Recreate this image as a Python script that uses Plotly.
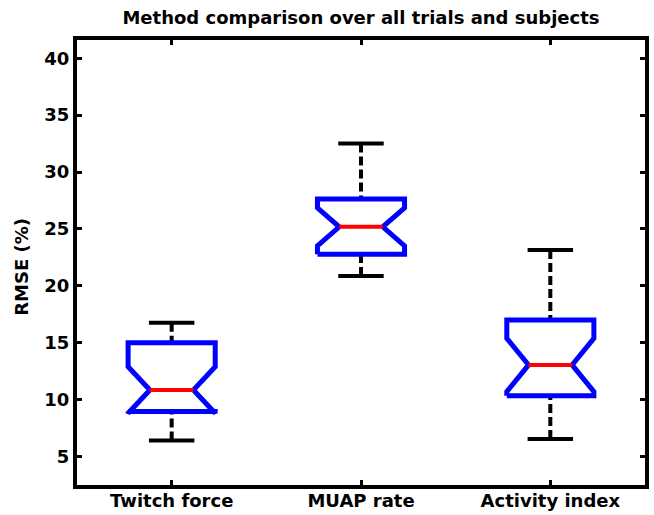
import plotly.graph_objects as go

# RMSE summary statistics (%) for each estimation method
methods = ["Twitch force", "MUAP rate", "Activity index"]
lower_whisker = [6.40, 20.86, 6.55]
q1 = [8.95, 22.77, 10.35]
median = [10.85, 25.19, 13.05]
q3 = [15.00, 27.62, 17.00]
upper_whisker = [16.76, 32.51, 23.14]
notch_half = [2.05, 1.67, 2.34]

y_ticks = [5, 10, 15, 20, 25, 30, 35, 40]

BOX_W = 0.46   # box width in category units
CAP_W = 0.24   # whisker cap width
FONT = dict(family="DejaVu Sans", size=18, color="black", weight="bold")

fig = go.Figure()

for i, name in enumerate(methods):
    c = i + 1
    left, right = c - BOX_W / 2, c + BOX_W / 2
    nl, nr = c - BOX_W / 4, c + BOX_W / 4
    n_lo = median[i] - notch_half[i]
    n_hi = median[i] + notch_half[i]

    # whiskers (dashed) from box edges to adjacent values
    for y0, y1 in ((q3[i], upper_whisker[i]), (q1[i], lower_whisker[i])):
        fig.add_trace(go.Scatter(
            x=[c, c], y=[y1, y0], mode="lines",
            line=dict(color="black", width=4, dash="9px,4px"),
            hoverinfo="skip", showlegend=False))
    # whisker caps
    for yv in (upper_whisker[i], lower_whisker[i]):
        fig.add_trace(go.Scatter(
            x=[c - CAP_W / 2, c + CAP_W / 2], y=[yv, yv], mode="lines",
            line=dict(color="black", width=4),
            hoverinfo="skip", showlegend=False))

    # notched box outline
    bx = [left, left, nl, left, left, right, right, nr, right, right, left]
    by = [q1[i], n_lo, median[i], n_hi, q3[i], q3[i], n_hi, median[i], n_lo, q1[i], q1[i]]
    fig.add_trace(go.Scatter(
        x=bx, y=by, mode="lines",
        line=dict(color="#0000FF", width=5),
        name=name, showlegend=False))

    # median line
    fig.add_trace(go.Scatter(
        x=[nl, nr], y=[median[i], median[i]], mode="lines",
        line=dict(color="#FF0000", width=4),
        hoverinfo="skip", showlegend=False))

axis_common = dict(
    showline=True, linecolor="black", linewidth=4, mirror="allticks",
    ticks="inside", ticklen=5, tickwidth=3, tickcolor="black",
    showgrid=False, zeroline=False, tickfont=FONT, automargin=False,
)

fig.update_layout(
    width=654, height=515,
    margin=dict(l=77, r=9, t=40, b=30),
    paper_bgcolor="white", plot_bgcolor="white",
    title=dict(text="Method comparison over all trials and subjects",
               x=0.5, xref="paper", y=1 - 18 / 515, yref="container",
               xanchor="center", yanchor="middle",
               font=dict(family="DejaVu Sans", size=18, color="black", weight="bold")),
    xaxis=dict(range=[0.5, 3.5], tickvals=[1, 2, 3], ticktext=methods,
               ticklabelstandoff=-4, **axis_common),
    yaxis=dict(range=[2.5, 41.6], tickvals=y_ticks, **axis_common),
    annotations=[dict(text="RMSE (%)", textangle=-90, xref="paper", yref="paper",
                      x=-0.097, y=0.49, xanchor="center", yanchor="middle",
                      showarrow=False, font=FONT)],
)

fig.write_html("out.html")
